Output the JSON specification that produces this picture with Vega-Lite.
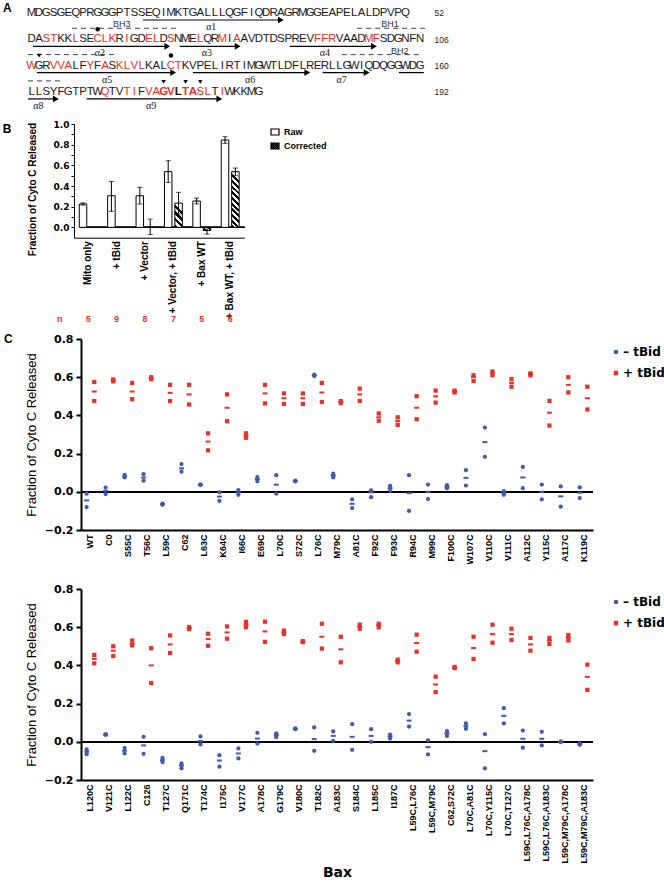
{
"$schema": "https://vega.github.io/schema/vega-lite/v6.json",
"background": "white",
"padding": {"left": 2, "top": 0, "right": 0, "bottom": 0},
"spacing": 9,
"config": {"view": {"stroke": null}, "font": "Liberation Sans", "axis": {"grid": false, "labelOverlap": false}},
"resolve": {"scale": {"color": "independent", "shape": "independent", "fill": "independent", "x": "independent", "y": "independent", "xOffset": "independent"}, "legend": {"color": "independent", "shape": "independent", "fill": "independent"}},
"datasets": {
"seq": [
{"line":1,"pos":1,"aa":"M","hl":"k"},{"line":1,"pos":2,"aa":"D","hl":"k"},{"line":1,"pos":3,"aa":"G","hl":"k"},{"line":1,"pos":4,"aa":"S","hl":"k"},{"line":1,"pos":5,"aa":"G","hl":"k"},{"line":1,"pos":6,"aa":"E","hl":"k"},{"line":1,"pos":7,"aa":"Q","hl":"k"},{"line":1,"pos":8,"aa":"P","hl":"k"},{"line":1,"pos":9,"aa":"R","hl":"k"},{"line":1,"pos":10,"aa":"G","hl":"k"},
{"line":1,"pos":11,"aa":"G","hl":"k"},{"line":1,"pos":12,"aa":"G","hl":"k"},{"line":1,"pos":13,"aa":"P","hl":"k"},{"line":1,"pos":14,"aa":"T","hl":"k"},{"line":1,"pos":15,"aa":"S","hl":"k"},{"line":1,"pos":16,"aa":"S","hl":"k"},{"line":1,"pos":17,"aa":"E","hl":"k"},{"line":1,"pos":18,"aa":"Q","hl":"k"},{"line":1,"pos":19,"aa":"I","hl":"k"},{"line":1,"pos":20,"aa":"M","hl":"k"},
{"line":1,"pos":21,"aa":"K","hl":"k"},{"line":1,"pos":22,"aa":"T","hl":"k"},{"line":1,"pos":23,"aa":"G","hl":"k"},{"line":1,"pos":24,"aa":"A","hl":"k"},{"line":1,"pos":25,"aa":"L","hl":"k"},{"line":1,"pos":26,"aa":"L","hl":"k"},{"line":1,"pos":27,"aa":"L","hl":"k"},{"line":1,"pos":28,"aa":"Q","hl":"k"},{"line":1,"pos":29,"aa":"G","hl":"k"},{"line":1,"pos":30,"aa":"F","hl":"k"},
{"line":1,"pos":31,"aa":"I","hl":"k"},{"line":1,"pos":32,"aa":"Q","hl":"k"},{"line":1,"pos":33,"aa":"D","hl":"k"},{"line":1,"pos":34,"aa":"R","hl":"k"},{"line":1,"pos":35,"aa":"A","hl":"k"},{"line":1,"pos":36,"aa":"G","hl":"k"},{"line":1,"pos":37,"aa":"R","hl":"k"},{"line":1,"pos":38,"aa":"M","hl":"k"},{"line":1,"pos":39,"aa":"G","hl":"k"},{"line":1,"pos":40,"aa":"G","hl":"k"},
{"line":1,"pos":41,"aa":"E","hl":"k"},{"line":1,"pos":42,"aa":"A","hl":"k"},{"line":1,"pos":43,"aa":"P","hl":"k"},{"line":1,"pos":44,"aa":"E","hl":"k"},{"line":1,"pos":45,"aa":"L","hl":"k"},{"line":1,"pos":46,"aa":"A","hl":"k"},{"line":1,"pos":47,"aa":"L","hl":"k"},{"line":1,"pos":48,"aa":"D","hl":"k"},{"line":1,"pos":49,"aa":"P","hl":"k"},{"line":1,"pos":50,"aa":"V","hl":"k"},
{"line":1,"pos":51,"aa":"P","hl":"k"},{"line":1,"pos":52,"aa":"Q","hl":"k"},
{"line":2,"pos":1,"aa":"D","hl":"k"},{"line":2,"pos":2,"aa":"A","hl":"k"},{"line":2,"pos":3,"aa":"S","hl":"r"},{"line":2,"pos":4,"aa":"T","hl":"r"},{"line":2,"pos":5,"aa":"K","hl":"k"},{"line":2,"pos":6,"aa":"K","hl":"k"},{"line":2,"pos":7,"aa":"L","hl":"r"},{"line":2,"pos":8,"aa":"S","hl":"k"},{"line":2,"pos":9,"aa":"E","hl":"k"},{"line":2,"pos":10,"aa":"C","hl":"r"},
{"line":2,"pos":11,"aa":"L","hl":"r"},{"line":2,"pos":12,"aa":"K","hl":"r"},{"line":2,"pos":13,"aa":"R","hl":"k"},{"line":2,"pos":14,"aa":"I","hl":"r"},{"line":2,"pos":15,"aa":"G","hl":"k"},{"line":2,"pos":16,"aa":"D","hl":"k"},{"line":2,"pos":17,"aa":"E","hl":"r"},{"line":2,"pos":18,"aa":"L","hl":"r"},{"line":2,"pos":19,"aa":"D","hl":"k"},{"line":2,"pos":20,"aa":"S","hl":"r"},
{"line":2,"pos":21,"aa":"N","hl":"k"},{"line":2,"pos":22,"aa":"M","hl":"k"},{"line":2,"pos":23,"aa":"E","hl":"k"},{"line":2,"pos":24,"aa":"L","hl":"r"},{"line":2,"pos":25,"aa":"Q","hl":"k"},{"line":2,"pos":26,"aa":"R","hl":"k"},{"line":2,"pos":27,"aa":"M","hl":"r"},{"line":2,"pos":28,"aa":"I","hl":"k"},{"line":2,"pos":29,"aa":"A","hl":"r"},{"line":2,"pos":30,"aa":"A","hl":"k"},
{"line":2,"pos":31,"aa":"V","hl":"k"},{"line":2,"pos":32,"aa":"D","hl":"k"},{"line":2,"pos":33,"aa":"T","hl":"k"},{"line":2,"pos":34,"aa":"D","hl":"k"},{"line":2,"pos":35,"aa":"S","hl":"k"},{"line":2,"pos":36,"aa":"P","hl":"k"},{"line":2,"pos":37,"aa":"R","hl":"k"},{"line":2,"pos":38,"aa":"E","hl":"k"},{"line":2,"pos":39,"aa":"V","hl":"k"},{"line":2,"pos":40,"aa":"F","hl":"r"},
{"line":2,"pos":41,"aa":"F","hl":"r"},{"line":2,"pos":42,"aa":"R","hl":"r"},{"line":2,"pos":43,"aa":"V","hl":"k"},{"line":2,"pos":44,"aa":"A","hl":"k"},{"line":2,"pos":45,"aa":"A","hl":"k"},{"line":2,"pos":46,"aa":"D","hl":"k"},{"line":2,"pos":47,"aa":"M","hl":"r"},{"line":2,"pos":48,"aa":"F","hl":"r"},{"line":2,"pos":49,"aa":"S","hl":"k"},{"line":2,"pos":50,"aa":"D","hl":"k"},
{"line":2,"pos":51,"aa":"G","hl":"k"},{"line":2,"pos":52,"aa":"N","hl":"k"},{"line":2,"pos":53,"aa":"F","hl":"k"},{"line":2,"pos":54,"aa":"N","hl":"k"},
{"line":3,"pos":1,"aa":"W","hl":"r"},{"line":3,"pos":2,"aa":"G","hl":"k"},{"line":3,"pos":3,"aa":"R","hl":"k"},{"line":3,"pos":4,"aa":"V","hl":"r"},{"line":3,"pos":5,"aa":"V","hl":"r"},{"line":3,"pos":6,"aa":"A","hl":"r"},{"line":3,"pos":7,"aa":"L","hl":"k"},{"line":3,"pos":8,"aa":"F","hl":"k"},{"line":3,"pos":9,"aa":"Y","hl":"r"},{"line":3,"pos":10,"aa":"F","hl":"k"},
{"line":3,"pos":11,"aa":"A","hl":"r"},{"line":3,"pos":12,"aa":"S","hl":"k"},{"line":3,"pos":13,"aa":"K","hl":"r"},{"line":3,"pos":14,"aa":"L","hl":"r"},{"line":3,"pos":15,"aa":"V","hl":"r"},{"line":3,"pos":16,"aa":"L","hl":"r"},{"line":3,"pos":17,"aa":"K","hl":"k"},{"line":3,"pos":18,"aa":"A","hl":"k"},{"line":3,"pos":19,"aa":"L","hl":"k"},{"line":3,"pos":20,"aa":"C","hl":"r"},
{"line":3,"pos":21,"aa":"T","hl":"r"},{"line":3,"pos":22,"aa":"K","hl":"k"},{"line":3,"pos":23,"aa":"V","hl":"k"},{"line":3,"pos":24,"aa":"P","hl":"k"},{"line":3,"pos":25,"aa":"E","hl":"k"},{"line":3,"pos":26,"aa":"L","hl":"k"},{"line":3,"pos":27,"aa":"I","hl":"k"},{"line":3,"pos":28,"aa":"R","hl":"k"},{"line":3,"pos":29,"aa":"T","hl":"k"},{"line":3,"pos":30,"aa":"I","hl":"k"},
{"line":3,"pos":31,"aa":"M","hl":"k"},{"line":3,"pos":32,"aa":"G","hl":"k"},{"line":3,"pos":33,"aa":"W","hl":"k"},{"line":3,"pos":34,"aa":"T","hl":"k"},{"line":3,"pos":35,"aa":"L","hl":"k"},{"line":3,"pos":36,"aa":"D","hl":"k"},{"line":3,"pos":37,"aa":"F","hl":"k"},{"line":3,"pos":38,"aa":"L","hl":"k"},{"line":3,"pos":39,"aa":"R","hl":"k"},{"line":3,"pos":40,"aa":"E","hl":"k"},
{"line":3,"pos":41,"aa":"R","hl":"k"},{"line":3,"pos":42,"aa":"L","hl":"k"},{"line":3,"pos":43,"aa":"L","hl":"k"},{"line":3,"pos":44,"aa":"G","hl":"k"},{"line":3,"pos":45,"aa":"W","hl":"k"},{"line":3,"pos":46,"aa":"I","hl":"k"},{"line":3,"pos":47,"aa":"Q","hl":"k"},{"line":3,"pos":48,"aa":"D","hl":"k"},{"line":3,"pos":49,"aa":"Q","hl":"k"},{"line":3,"pos":50,"aa":"G","hl":"k"},
{"line":3,"pos":51,"aa":"G","hl":"k"},{"line":3,"pos":52,"aa":"W","hl":"k"},{"line":3,"pos":53,"aa":"D","hl":"k"},{"line":3,"pos":54,"aa":"G","hl":"k"},
{"line":4,"pos":1,"aa":"L","hl":"k"},{"line":4,"pos":2,"aa":"L","hl":"k"},{"line":4,"pos":3,"aa":"S","hl":"k"},{"line":4,"pos":4,"aa":"Y","hl":"k"},{"line":4,"pos":5,"aa":"F","hl":"k"},{"line":4,"pos":6,"aa":"G","hl":"k"},{"line":4,"pos":7,"aa":"T","hl":"k"},{"line":4,"pos":8,"aa":"P","hl":"k"},{"line":4,"pos":9,"aa":"T","hl":"k"},{"line":4,"pos":10,"aa":"W","hl":"k"},
{"line":4,"pos":11,"aa":"Q","hl":"r"},{"line":4,"pos":12,"aa":"T","hl":"k"},{"line":4,"pos":13,"aa":"V","hl":"k"},{"line":4,"pos":14,"aa":"T","hl":"r"},{"line":4,"pos":15,"aa":"I","hl":"r"},{"line":4,"pos":16,"aa":"F","hl":"k"},{"line":4,"pos":17,"aa":"V","hl":"r"},{"line":4,"pos":18,"aa":"A","hl":"r"},{"line":4,"pos":19,"aa":"G","hl":"rb"},{"line":4,"pos":20,"aa":"V","hl":"rb"},
{"line":4,"pos":21,"aa":"L","hl":"kb"},{"line":4,"pos":22,"aa":"T","hl":"rb"},{"line":4,"pos":23,"aa":"A","hl":"rb"},{"line":4,"pos":24,"aa":"S","hl":"r"},{"line":4,"pos":25,"aa":"L","hl":"r"},{"line":4,"pos":26,"aa":"T","hl":"k"},{"line":4,"pos":27,"aa":"I","hl":"r"},{"line":4,"pos":28,"aa":"W","hl":"k"},{"line":4,"pos":29,"aa":"K","hl":"k"},{"line":4,"pos":30,"aa":"K","hl":"k"},
{"line":4,"pos":31,"aa":"M","hl":"k"},{"line":4,"pos":32,"aa":"G","hl":"k"}
],
"ann": [
{"kind":"helix","line":1,"start":16.2,"end":35,"mid":25.5,"label":"α1"},
{"kind":"helix","line":2,"start":1.2,"end":19.5,"mid":10.3,"label":"α2"},
{"kind":"helix","line":2,"start":21.2,"end":29.1,"mid":24.9,"label":"α3"},
{"kind":"helix","line":2,"start":36.2,"end":47.7,"mid":41,"label":"α4"},
{"kind":"helix","line":3,"start":1.7,"end":20.3,"mid":11.3,"label":"α5"},
{"kind":"helix","line":3,"start":23,"end":38.6,"mid":30.8,"label":"α6"},
{"kind":"helix","line":3,"start":40.7,"end":46.7,"mid":43.3,"label":"α7"},
{"kind":"helix","line":4,"start":0.5,"end":4.3,"mid":1.9,"label":"α8"},
{"kind":"helix","line":4,"start":8.5,"end":26.6,"mid":17.3,"label":"α9"},
{"kind":"under","line":3,"start":51.1,"end":54.5,"mid":52.8,"label":""},
{"kind":"bh","line":2,"start":6.5,"end":20.8,"mid":13.3,"label":"BH3"},
{"kind":"bh","line":2,"start":45.4,"end":54.7,"mid":49.9,"label":"BH1"},
{"kind":"bh","line":3,"start":0.5,"end":12.4,"mid":6.5,"label":""},
{"kind":"bh","line":3,"start":43.3,"end":54,"mid":51.2,"label":"BH2"},
{"kind":"bh","line":4,"start":0.5,"end":5,"mid":2.7,"label":""}
],
"sym": [
{"kind":"dot","line":2,"pos":10},{"kind":"dot","line":3,"pos":20},{"kind":"tri","line":3,"pos":2},{"kind":"tri","line":4,"pos":19},{"kind":"tri","line":4,"pos":22},{"kind":"tri","line":4,"pos":24}
],
"bax": [
{"cond":"Mito only","type":"Raw","val":0.226,"lo":0.215,"hi":0.237},
{"cond":"+ tBid","type":"Raw","val":0.306,"lo":0.155,"hi":0.445},
{"cond":"+ Vector","type":"Raw","val":0.306,"lo":0.226,"hi":0.387},
{"cond":"+ Vector","type":"Corrected","val":0.0,"lo":-0.07,"hi":0.08},
{"cond":"+ Vector, + tBid","type":"Raw","val":0.539,"lo":0.435,"hi":0.645},
{"cond":"+ Vector, + tBid","type":"Corrected","val":0.235,"lo":0.13,"hi":0.339},
{"cond":"+ Bax WT","type":"Raw","val":0.255,"lo":0.226,"hi":0.283},
{"cond":"+ Bax WT","type":"Corrected","val":-0.03,"lo":-0.065,"hi":0.0},
{"cond":"+ Bax WT, + tBid","type":"Raw","val":0.845,"lo":0.813,"hi":0.877},
{"cond":"+ Bax WT, + tBid","type":"Corrected","val":0.539,"lo":0.5,"hi":0.574}
],
"nrow": [
{"cond":"n","n":"n"},{"cond":"Mito only","n":"5"},{"cond":"+ tBid","n":"9"},{"cond":"+ Vector","n":"8"},{"cond":"+ Vector, + tBid","n":"7"},{"cond":"+ Bax WT","n":"5"},{"cond":"+ Bax WT, + tBid","n":"6"}
],
"c1": [
{"m":"WT","t":"– tBid","hi":-0.01,"mid":-0.045,"lo":-0.08},{"m":"WT","t":"+ tBid","hi":0.575,"mid":0.525,"lo":0.475},
{"m":"C0","t":"– tBid","hi":0.022,"mid":0.005,"lo":-0.012},{"m":"C0","t":"+ tBid","hi":0.588,"mid":0.583,"lo":0.578},
{"m":"S55C","t":"– tBid","hi":0.088,"mid":0.08,"lo":0.075},{"m":"S55C","t":"+ tBid","hi":0.57,"mid":0.525,"lo":0.485},
{"m":"T56C","t":"– tBid","hi":0.092,"mid":0.075,"lo":0.058},{"m":"T56C","t":"+ tBid","hi":0.6,"mid":0.595,"lo":0.59},
{"m":"L59C","t":"– tBid","hi":-0.062,"mid":-0.065,"lo":-0.068},{"m":"L59C","t":"+ tBid","hi":0.56,"mid":0.518,"lo":0.475},
{"m":"C62","t":"– tBid","hi":0.145,"mid":0.123,"lo":0.105},{"m":"C62","t":"+ tBid","hi":0.56,"mid":0.51,"lo":0.457},
{"m":"L63C","t":"– tBid","hi":0.039,"mid":0.037,"lo":0.035},{"m":"L63C","t":"+ tBid","hi":0.306,"mid":0.263,"lo":0.217},
{"m":"K64C","t":"– tBid","hi":-0.003,"mid":-0.025,"lo":-0.047},{"m":"K64C","t":"+ tBid","hi":0.51,"mid":0.44,"lo":0.37},
{"m":"I66C","t":"– tBid","hi":0.009,"mid":-0.003,"lo":-0.016},{"m":"I66C","t":"+ tBid","hi":0.306,"mid":0.295,"lo":0.283},
{"m":"E69C","t":"– tBid","hi":0.077,"mid":0.066,"lo":0.055},{"m":"E69C","t":"+ tBid","hi":0.56,"mid":0.515,"lo":0.463},
{"m":"L70C","t":"– tBid","hi":0.087,"mid":0.037,"lo":-0.01},{"m":"L70C","t":"+ tBid","hi":0.515,"mid":0.49,"lo":0.46},
{"m":"S72C","t":"– tBid","hi":0.058,"mid":0.056,"lo":0.054},{"m":"S72C","t":"+ tBid","hi":0.515,"mid":0.49,"lo":0.46},
{"m":"L76C","t":"– tBid","hi":0.614,"mid":0.61,"lo":0.606},{"m":"L76C","t":"+ tBid","hi":0.57,"mid":0.52,"lo":0.47},
{"m":"M79C","t":"– tBid","hi":0.095,"mid":0.085,"lo":0.075},{"m":"M79C","t":"+ tBid","hi":0.475,"mid":0.47,"lo":0.465},
{"m":"A81C","t":"– tBid","hi":-0.04,"mid":-0.063,"lo":-0.085},{"m":"A81C","t":"+ tBid","hi":0.54,"mid":0.51,"lo":0.476},
{"m":"F92C","t":"– tBid","hi":0.008,"mid":-0.003,"lo":-0.028},{"m":"F92C","t":"+ tBid","hi":0.41,"mid":0.39,"lo":0.372},
{"m":"F93C","t":"– tBid","hi":0.031,"mid":0.019,"lo":0.005},{"m":"F93C","t":"+ tBid","hi":0.39,"mid":0.37,"lo":0.35},
{"m":"R94C","t":"– tBid","hi":0.087,"mid":-0.007,"lo":-0.1},{"m":"R94C","t":"+ tBid","hi":0.5,"mid":0.44,"lo":0.38},
{"m":"M99C","t":"– tBid","hi":0.038,"mid":0.0,"lo":-0.038},{"m":"M99C","t":"+ tBid","hi":0.53,"mid":0.5,"lo":0.467},
{"m":"F100C","t":"– tBid","hi":0.035,"mid":0.026,"lo":0.018},{"m":"F100C","t":"+ tBid","hi":0.53,"mid":0.525,"lo":0.52},
{"m":"W107C","t":"– tBid","hi":0.113,"mid":0.073,"lo":0.033},{"m":"W107C","t":"+ tBid","hi":0.61,"mid":0.6,"lo":0.58},
{"m":"V110C","t":"– tBid","hi":0.336,"mid":0.26,"lo":0.183},{"m":"V110C","t":"+ tBid","hi":0.63,"mid":0.62,"lo":0.61},
{"m":"V111C","t":"– tBid","hi":0.003,"mid":-0.007,"lo":-0.016},{"m":"V111C","t":"+ tBid","hi":0.59,"mid":0.57,"lo":0.55},
{"m":"A112C","t":"– tBid","hi":0.13,"mid":0.075,"lo":0.019},{"m":"A112C","t":"+ tBid","hi":0.62,"mid":0.615,"lo":0.61},
{"m":"Y115C","t":"– tBid","hi":0.038,"mid":0.0,"lo":-0.04},{"m":"Y115C","t":"+ tBid","hi":0.476,"mid":0.414,"lo":0.347},
{"m":"A117C","t":"– tBid","hi":0.028,"mid":-0.024,"lo":-0.078},{"m":"A117C","t":"+ tBid","hi":0.6,"mid":0.56,"lo":0.52},
{"m":"K119C","t":"– tBid","hi":0.023,"mid":-0.005,"lo":-0.033},{"m":"K119C","t":"+ tBid","hi":0.55,"mid":0.49,"lo":0.431}
],
"c2": [
{"m":"L120C","t":"– tBid","hi":-0.04,"mid":-0.052,"lo":-0.065},{"m":"L120C","t":"+ tBid","hi":0.455,"mid":0.434,"lo":0.411},
{"m":"V121C","t":"– tBid","hi":0.04,"mid":0.038,"lo":0.036},{"m":"V121C","t":"+ tBid","hi":0.5,"mid":0.477,"lo":0.449},
{"m":"L122C","t":"– tBid","hi":-0.033,"mid":-0.047,"lo":-0.061},{"m":"L122C","t":"+ tBid","hi":0.53,"mid":0.515,"lo":0.505},
{"m":"C126","t":"– tBid","hi":0.026,"mid":-0.019,"lo":-0.063},{"m":"C126","t":"+ tBid","hi":0.49,"mid":0.4,"lo":0.308},
{"m":"T127C","t":"– tBid","hi":-0.084,"mid":-0.096,"lo":-0.106},{"m":"T127C","t":"+ tBid","hi":0.557,"mid":0.51,"lo":0.465},
{"m":"Q171C","t":"– tBid","hi":-0.113,"mid":-0.125,"lo":-0.139},{"m":"Q171C","t":"+ tBid","hi":0.601,"mid":0.595,"lo":0.59},
{"m":"T174C","t":"– tBid","hi":0.028,"mid":0.004,"lo":-0.014},{"m":"T174C","t":"+ tBid","hi":0.566,"mid":0.538,"lo":0.503},
{"m":"I175C","t":"– tBid","hi":-0.07,"mid":-0.098,"lo":-0.13},{"m":"I175C","t":"+ tBid","hi":0.604,"mid":0.573,"lo":0.54},
{"m":"V177C","t":"– tBid","hi":-0.035,"mid":-0.061,"lo":-0.087},{"m":"V177C","t":"+ tBid","hi":0.628,"mid":0.615,"lo":0.6},
{"m":"A178C","t":"– tBid","hi":0.047,"mid":0.017,"lo":-0.009},{"m":"A178C","t":"+ tBid","hi":0.629,"mid":0.578,"lo":0.523},
{"m":"G179C","t":"– tBid","hi":0.044,"mid":0.035,"lo":0.024},{"m":"G179C","t":"+ tBid","hi":0.582,"mid":0.573,"lo":0.564},
{"m":"V180C","t":"– tBid","hi":0.07,"mid":0.068,"lo":0.066},{"m":"V180C","t":"+ tBid","hi":0.527,"mid":0.524,"lo":0.522},
{"m":"T182C","t":"– tBid","hi":0.075,"mid":0.014,"lo":-0.047},{"m":"T182C","t":"+ tBid","hi":0.618,"mid":0.55,"lo":0.488},
{"m":"A183C","t":"– tBid","hi":0.054,"mid":0.031,"lo":0.005},{"m":"A183C","t":"+ tBid","hi":0.55,"mid":0.484,"lo":0.416},
{"m":"S184C","t":"– tBid","hi":0.092,"mid":0.026,"lo":-0.042},{"m":"S184C","t":"+ tBid","hi":0.613,"mid":0.603,"lo":0.592},
{"m":"L185C","t":"– tBid","hi":0.066,"mid":0.031,"lo":0.0},{"m":"L185C","t":"+ tBid","hi":0.618,"mid":0.61,"lo":0.599},
{"m":"I187C","t":"– tBid","hi":0.038,"mid":0.028,"lo":0.017},{"m":"I187C","t":"+ tBid","hi":0.43,"mid":0.423,"lo":0.416},
{"m":"L59C,L76C","t":"– tBid","hi":0.145,"mid":0.111,"lo":0.08},{"m":"L59C,L76C","t":"+ tBid","hi":0.561,"mid":0.517,"lo":0.472},
{"m":"L59C,M79C","t":"– tBid","hi":0.007,"mid":-0.028,"lo":-0.066},{"m":"L59C,M79C","t":"+ tBid","hi":0.341,"mid":0.3,"lo":0.26},
{"m":"C62,S72C","t":"– tBid","hi":0.056,"mid":0.044,"lo":0.031},{"m":"C62,S72C","t":"+ tBid","hi":0.392,"mid":0.389,"lo":0.386},
{"m":"L70C,A81C","t":"– tBid","hi":0.096,"mid":0.082,"lo":0.068},{"m":"L70C,A81C","t":"+ tBid","hi":0.55,"mid":0.491,"lo":0.434},
{"m":"L70C,Y115C","t":"– tBid","hi":0.04,"mid":-0.049,"lo":-0.139},{"m":"L70C,Y115C","t":"+ tBid","hi":0.613,"mid":0.564,"lo":0.519},
{"m":"L70C,T127C","t":"– tBid","hi":0.176,"mid":0.136,"lo":0.096},{"m":"L70C,T127C","t":"+ tBid","hi":0.592,"mid":0.564,"lo":0.533},
{"m":"L59C,L76C,A178C","t":"– tBid","hi":0.059,"mid":0.016,"lo":-0.031},{"m":"L59C,L76C,A178C","t":"+ tBid","hi":0.544,"mid":0.51,"lo":0.477},
{"m":"L59C,L76C,A183C","t":"– tBid","hi":0.052,"mid":0.016,"lo":-0.019},{"m":"L59C,L76C,A183C","t":"+ tBid","hi":0.544,"mid":0.53,"lo":0.512},
{"m":"L59C,M79C,A178C","t":"– tBid","hi":0.002,"mid":0.0,"lo":-0.002},{"m":"L59C,M79C,A178C","t":"+ tBid","hi":0.559,"mid":0.545,"lo":0.531},
{"m":"L59C,M79C,A183C","t":"– tBid","hi":-0.008,"mid":-0.012,"lo":-0.016},{"m":"L59C,M79C,A183C","t":"+ tBid","hi":0.404,"mid":0.34,"lo":0.272}
]
},
"vconcat": [
{
"width": 352, "height": 108,
"title": {"text": "A", "orient": "left", "anchor": "end", "frame": "group", "angle": 0, "align": "right", "baseline": "top", "offset": 6, "dy": 3, "fontSize": 12, "fontWeight": "bold", "font": "Liberation Sans", "color": "black"},
"encoding": {"y": {"field": "line", "type": "quantitative", "scale": {"domain": [0.506, 4.612], "reverse": true, "nice": false, "zero": false}, "axis": {"orient": "right", "values": [1,2,3,4], "tickCount": 10, "labelExpr": "datum.value == 1 ? '52' : datum.value == 2 ? '106' : datum.value == 3 ? '160' : '192'", "domain": false, "ticks": false, "grid": false, "labelOverlap": false, "labelPadding": 1, "labelFontSize": 8.5, "labelColor": "#222", "title": null}}},
"layer": [
{"data": {"name": "seq"}, "transform": [{"filter": "datum.hl == 'k' || datum.hl == 'r'"}],
 "mark": {"type": "text", "fontSize": 11.5, "baseline": "middle"},
 "encoding": {"x": {"field": "pos", "type": "quantitative", "scale": {"domain": [7.73, 55.75], "nice": false, "zero": false}, "axis": null},
  "text": {"field": "aa"},
  "color": {"field": "hl", "type": "nominal", "scale": {"domain": ["k","r","kb","rb"], "range": ["#1a1a1a","#e63228","#1a1a1a","#e63228"]}, "legend": null}}},
{"data": {"name": "seq"}, "transform": [{"filter": "datum.hl == 'kb' || datum.hl == 'rb'"}],
 "mark": {"type": "text", "fontSize": 11.5, "fontWeight": "bold", "baseline": "middle"},
 "encoding": {"x": {"field": "pos", "type": "quantitative", "scale": {"domain": [7.73, 55.75], "nice": false, "zero": false}, "axis": null},
  "text": {"field": "aa"},
  "color": {"field": "hl", "type": "nominal", "legend": null}}},
{"data": {"name": "ann"}, "transform": [{"filter": "datum.kind != 'bh'"}],
 "mark": {"type": "rule", "color": "black", "strokeWidth": 1.2, "yOffset": 7},
 "encoding": {"x": {"field": "start", "type": "quantitative", "scale": {"domain": [7.73, 55.75], "nice": false, "zero": false}, "axis": null}, "x2": {"field": "end"}}},
{"data": {"name": "ann"}, "transform": [{"filter": "datum.kind == 'helix'"}],
 "mark": {"type": "point", "shape": "triangle-right", "filled": true, "color": "black", "opacity": 1, "size": 45, "yOffset": 7},
 "encoding": {"x": {"field": "end", "type": "quantitative", "scale": {"domain": [7.73, 55.75], "nice": false, "zero": false}, "axis": null}}},
{"data": {"name": "ann"}, "transform": [{"filter": "datum.kind == 'helix'"}],
 "mark": {"type": "text", "font": "Liberation Serif", "fontSize": 10, "dy": 14, "color": "#222"},
 "encoding": {"x": {"field": "mid", "type": "quantitative", "scale": {"domain": [7.73, 55.75], "nice": false, "zero": false}, "axis": null}, "text": {"field": "label"}}},
{"data": {"name": "ann"}, "transform": [{"filter": "datum.kind == 'bh'"}],
 "mark": {"type": "rule", "color": "#444", "strokeWidth": 1, "strokeDash": [5, 4], "yOffset": -11},
 "encoding": {"x": {"field": "start", "type": "quantitative", "scale": {"domain": [7.73, 55.75], "nice": false, "zero": false}, "axis": null}, "x2": {"field": "end"}}},
{"data": {"name": "ann"}, "transform": [{"filter": "datum.kind == 'bh' && datum.label != ''"}],
 "mark": {"type": "text", "fontSize": 9, "dy": -15, "color": "#333"},
 "encoding": {"x": {"field": "mid", "type": "quantitative", "scale": {"domain": [7.73, 55.75], "nice": false, "zero": false}, "axis": null}, "text": {"field": "label"}}},
{"data": {"name": "sym"},
 "mark": {"type": "point", "filled": true, "color": "black", "opacity": 1, "size": 20, "yOffset": -10},
 "encoding": {"x": {"field": "pos", "type": "quantitative", "scale": {"domain": [7.73, 55.75], "nice": false, "zero": false}, "axis": null},
  "shape": {"field": "kind", "type": "nominal", "scale": {"domain": ["dot","tri"], "range": ["circle","triangle-down"]}, "legend": null}}}
]
},
{
"width": 163.4, "height": 113.7,
"title": {"text": "B", "orient": "left", "anchor": "end", "frame": "group", "angle": 0, "align": "right", "baseline": "top", "offset": 7, "dy": 0, "fontSize": 12, "fontWeight": "bold", "font": "Liberation Sans", "color": "black"},
"layer": [
{"data": {"name": "bax"},
 "layer": [
  {"mark": {"type": "rule", "color": "black", "strokeWidth": 1}, "encoding": {"y": {"datum": 0, "type": "quantitative"}}},
  {"mark": {"type": "bar", "stroke": "black", "strokeWidth": 1},
   "encoding": {
    "x": {"field": "cond", "type": "nominal", "sort": null, "title": null,
      "scale": {"domain": ["Mito only","+ tBid","+ Vector","+ Vector, + tBid","+ Bax WT","+ Bax WT, + tBid"], "range": [-7, 163.4], "paddingInner": 0, "paddingOuter": 0},
      "axis": {"labelAngle": -90, "labelFont": "Liberation Sans", "labelFontWeight": "bold", "labelFontSize": 10, "labelColor": "black", "ticks": false, "domainColor": "black", "labelPadding": 3, "labelOverlap": false}},
    "xOffset": {"field": "type", "type": "nominal", "scale": {"domain": ["Raw","Corrected"], "paddingInner": 0.28, "paddingOuter": 0.505}},
    "y": {"field": "val", "type": "quantitative", "scale": {"domain": [-0.1, 1.0], "nice": false},
      "axis": {"title": "Fraction of Cyto C Released", "titleFont": "Liberation Sans", "titleFontSize": 10, "titleFontWeight": "bold", "titleColor": "black", "titlePadding": 16, "titleY": 65, "offset": 7, "values": [0,0.1,0.2,0.3,0.4,0.5,0.6,0.7,0.8,0.9,1.0], "tickCount": 30, "labelExpr": "round(datum.value*10) % 2 == 0 ? format(datum.value, '.1f') : ''", "labelOverlap": false, "labelFont": "DejaVu Sans", "labelFontWeight": "bold", "labelFontSize": 9, "labelColor": "black", "tickSize": 3, "tickColor": "black", "domainColor": "black", "labelPadding": 2}},
    "y2": {"datum": 0},
    "fill": {
      "condition": [
       {"test": "datum.type == 'Corrected' && datum.val > 0.4", "value": {"gradient": "linear", "x1": 0, "y1": 1, "x2": 0.134, "y2": 0, "stops": [
        {"offset":0,"color":"black"},{"offset":0.05,"color":"black"},{"offset":0.05,"color":"white"},{"offset":0.1,"color":"white"},
        {"offset":0.1,"color":"black"},{"offset":0.15,"color":"black"},{"offset":0.15,"color":"white"},{"offset":0.2,"color":"white"},
        {"offset":0.2,"color":"black"},{"offset":0.25,"color":"black"},{"offset":0.25,"color":"white"},{"offset":0.3,"color":"white"},
        {"offset":0.3,"color":"black"},{"offset":0.35,"color":"black"},{"offset":0.35,"color":"white"},{"offset":0.4,"color":"white"},
        {"offset":0.4,"color":"black"},{"offset":0.45,"color":"black"},{"offset":0.45,"color":"white"},{"offset":0.5,"color":"white"},
        {"offset":0.5,"color":"black"},{"offset":0.55,"color":"black"},{"offset":0.55,"color":"white"},{"offset":0.6,"color":"white"},
        {"offset":0.6,"color":"black"},{"offset":0.65,"color":"black"},{"offset":0.65,"color":"white"},{"offset":0.7,"color":"white"},
        {"offset":0.7,"color":"black"},{"offset":0.75,"color":"black"},{"offset":0.75,"color":"white"},{"offset":0.8,"color":"white"},
        {"offset":0.8,"color":"black"},{"offset":0.85,"color":"black"},{"offset":0.85,"color":"white"},{"offset":0.9,"color":"white"},
        {"offset":0.9,"color":"black"},{"offset":0.95,"color":"black"},{"offset":0.95,"color":"white"},{"offset":1,"color":"white"}]}},
       {"test": "datum.type == 'Corrected'", "value": {"gradient": "linear", "x1": 0, "y1": 1, "x2": 0.31, "y2": 0, "stops": [
        {"offset":0,"color":"black"},{"offset":0.125,"color":"black"},{"offset":0.125,"color":"white"},{"offset":0.25,"color":"white"},
        {"offset":0.25,"color":"black"},{"offset":0.375,"color":"black"},{"offset":0.375,"color":"white"},{"offset":0.5,"color":"white"},
        {"offset":0.5,"color":"black"},{"offset":0.625,"color":"black"},{"offset":0.625,"color":"white"},{"offset":0.75,"color":"white"},
        {"offset":0.75,"color":"black"},{"offset":0.875,"color":"black"},{"offset":0.875,"color":"white"},{"offset":1,"color":"white"}]}}
      ],
      "value": "white"}
   }},
  {"transform": [{"filter": "false"}],
   "mark": {"type": "point", "filled": false, "color": "black", "opacity": 1},
   "encoding": {
    "x": {"field": "cond", "type": "nominal", "sort": null},
    "xOffset": {"field": "type", "type": "nominal"},
    "y": {"field": "val", "type": "quantitative"},
    "shape": {"field": "type", "type": "nominal",
      "scale": {"domain": ["Raw","Corrected"], "range": ["M-1,-0.75H1V0.75H-1Z", "M-1,-0.75H1V0.75H-1Z M-1,0.25L-0.5,0.75 M-1,-0.25L0,0.75 M-1,-0.75L0.5,0.75 M-0.5,-0.75L1,0.75 M0,-0.75L1,0.25 M0.5,-0.75L1,-0.25"]},
      "legend": {"title": null, "orient": "right", "offset": 22, "padding": 3, "symbolSize": 64, "symbolStrokeColor": "black", "symbolStrokeWidth": 1.2, "labelFont": "Liberation Sans", "labelFontWeight": "bold", "labelFontSize": 9, "labelColor": "black", "rowPadding": 2, "labelOffset": 4}}}},
  {"mark": {"type": "rule", "color": "black", "strokeWidth": 1},
   "encoding": {"x": {"field": "cond", "type": "nominal", "sort": null}, "xOffset": {"field": "type", "type": "nominal"}, "y": {"field": "lo", "type": "quantitative"}, "y2": {"field": "hi"}}},
  {"mark": {"type": "tick", "color": "black", "size": 5, "thickness": 1},
   "encoding": {"x": {"field": "cond", "type": "nominal", "sort": null}, "xOffset": {"field": "type", "type": "nominal"}, "y": {"field": "hi", "type": "quantitative"}}},
  {"mark": {"type": "tick", "color": "black", "size": 5, "thickness": 1},
   "encoding": {"x": {"field": "cond", "type": "nominal", "sort": null}, "xOffset": {"field": "type", "type": "nominal"}, "y": {"field": "lo", "type": "quantitative"}}}
 ]},
{"data": {"name": "nrow"},
 "mark": {"type": "text", "color": "#e63228", "fontWeight": "bold", "fontSize": 9, "dy": 81},
 "encoding": {"x": {"field": "cond", "type": "nominal", "sort": null, "scale": {"domain": ["n","Mito only","+ tBid","+ Vector","+ Vector, + tBid","+ Bax WT","+ Bax WT, + tBid"], "range": [-35.4, 163.4], "paddingInner": 0, "paddingOuter": 0}, "axis": null},
  "y": {"datum": -0.1, "type": "quantitative"},
  "text": {"field": "n"}}}
],
"resolve": {"scale": {"x": "independent"}, "axis": {"x": "independent"}}
},
{
"width": 512, "height": 191,
"title": {"text": "C", "orient": "left", "anchor": "end", "frame": "group", "angle": 0, "align": "right", "baseline": "top", "offset": 4, "dy": -5, "fontSize": 12, "fontWeight": "bold", "font": "Liberation Sans", "color": "black"},
"data": {"name": "c1"},
"layer": [
 {"mark": {"type": "rule", "color": "black", "strokeWidth": 1.3}, "encoding": {"y": {"datum": 0, "type": "quantitative"}}},
 {"transform": [{"fold": ["hi","lo"], "as": ["k","v"]}],
  "mark": {"type": "point", "filled": true, "opacity": 1, "size": 18},
  "encoding": {
   "x": {"field": "m", "type": "nominal", "sort": null, "scale": {"paddingInner": 0, "paddingOuter": 0},
     "axis": {"labelAngle": -90, "labelFont": "Liberation Sans", "labelFontWeight": "bold", "labelFontSize": 9, "labelColor": "black", "labelOverlap": false, "ticks": false, "domainWidth": 2, "domainColor": "black", "labelPadding": 4, "title": " ", "titleFontSize": 6, "titlePadding": 3}},
   "xOffset": {"field": "t", "type": "nominal", "scale": {"domain": ["– tBid","+ tBid"], "paddingInner": 0, "paddingOuter": 0.245}},
   "y": {"field": "v", "type": "quantitative", "scale": {"domain": [-0.2, 0.8], "nice": false},
     "axis": {"values": [-0.2,0,0.2,0.4,0.6,0.8], "tickCount": 20, "format": ".1f", "labelOverlap": false, "labelFont": "DejaVu Sans", "labelFontWeight": "bold", "labelFontSize": 11, "labelColor": "black", "domainWidth": 2, "domainColor": "black", "tickWidth": 2, "tickColor": "black", "tickSize": 5, "labelPadding": 3, "title": "Fraction of Cyto C Released", "titleFont": "Liberation Sans", "titleFontWeight": "normal", "titleFontSize": 13, "titleColor": "black", "titlePadding": 6}},
   "color": {"field": "t", "type": "nominal", "scale": {"domain": ["– tBid","+ tBid"], "range": ["#3f5ba9","#e63228"]},
     "legend": {"title": null, "orient": "right", "offset": 10, "padding": 7, "rowPadding": 9, "labelFont": "DejaVu Sans", "labelFontWeight": "bold", "labelFontSize": 12, "labelColor": "black", "symbolSize": 20, "labelOffset": 1}},
   "shape": {"field": "t", "type": "nominal", "scale": {"domain": ["– tBid","+ tBid"], "range": ["circle","square"]},
     "legend": {"title": null, "orient": "right", "offset": 10, "padding": 7, "rowPadding": 9, "labelFont": "DejaVu Sans", "labelFontWeight": "bold", "labelFontSize": 12, "labelColor": "black", "symbolSize": 20, "labelOffset": 1}}}},
 {"mark": {"type": "tick", "size": 5, "thickness": 2, "opacity": 1},
  "encoding": {
   "x": {"field": "m", "type": "nominal", "sort": null},
   "xOffset": {"field": "t", "type": "nominal"},
   "y": {"field": "mid", "type": "quantitative"},
   "color": {"field": "t", "type": "nominal"}}}
]
},
{
"width": 512, "height": 191,
"data": {"name": "c2"},
"layer": [
 {"mark": {"type": "rule", "color": "black", "strokeWidth": 1.3}, "encoding": {"y": {"datum": 0, "type": "quantitative"}}},
 {"transform": [{"fold": ["hi","lo"], "as": ["k","v"]}],
  "mark": {"type": "point", "filled": true, "opacity": 1, "size": 18},
  "encoding": {
   "x": {"field": "m", "type": "nominal", "sort": null, "scale": {"paddingInner": 0, "paddingOuter": 0},
     "axis": {"labelAngle": -90, "labelFont": "Liberation Sans", "labelFontWeight": "bold", "labelFontSize": 9, "labelColor": "black", "labelOverlap": false, "ticks": false, "domainWidth": 2, "domainColor": "black", "labelPadding": 4, "title": "Bax", "titleFont": "DejaVu Sans", "titleFontWeight": "bold", "titleFontSize": 14, "titleColor": "black", "titlePadding": 2}},
   "xOffset": {"field": "t", "type": "nominal", "scale": {"domain": ["– tBid","+ tBid"], "paddingInner": 0, "paddingOuter": 0.245}},
   "y": {"field": "v", "type": "quantitative", "scale": {"domain": [-0.2, 0.8], "nice": false},
     "axis": {"values": [-0.2,0,0.2,0.4,0.6,0.8], "tickCount": 20, "format": ".1f", "labelOverlap": false, "labelFont": "DejaVu Sans", "labelFontWeight": "bold", "labelFontSize": 11, "labelColor": "black", "domainWidth": 2, "domainColor": "black", "tickWidth": 2, "tickColor": "black", "tickSize": 5, "labelPadding": 3, "title": "Fraction of Cyto C Released", "titleFont": "Liberation Sans", "titleFontWeight": "normal", "titleFontSize": 13, "titleColor": "black", "titlePadding": 6}},
   "color": {"field": "t", "type": "nominal", "scale": {"domain": ["– tBid","+ tBid"], "range": ["#3f5ba9","#e63228"]},
     "legend": {"title": null, "orient": "right", "offset": 10, "padding": 7, "rowPadding": 9, "labelFont": "DejaVu Sans", "labelFontWeight": "bold", "labelFontSize": 12, "labelColor": "black", "symbolSize": 20, "labelOffset": 1}},
   "shape": {"field": "t", "type": "nominal", "scale": {"domain": ["– tBid","+ tBid"], "range": ["circle","square"]},
     "legend": {"title": null, "orient": "right", "offset": 10, "padding": 7, "rowPadding": 9, "labelFont": "DejaVu Sans", "labelFontWeight": "bold", "labelFontSize": 12, "labelColor": "black", "symbolSize": 20, "labelOffset": 1}}}},
 {"mark": {"type": "tick", "size": 5, "thickness": 2, "opacity": 1},
  "encoding": {
   "x": {"field": "m", "type": "nominal", "sort": null},
   "xOffset": {"field": "t", "type": "nominal"},
   "y": {"field": "mid", "type": "quantitative"},
   "color": {"field": "t", "type": "nominal"}}}
]
}
]
}
